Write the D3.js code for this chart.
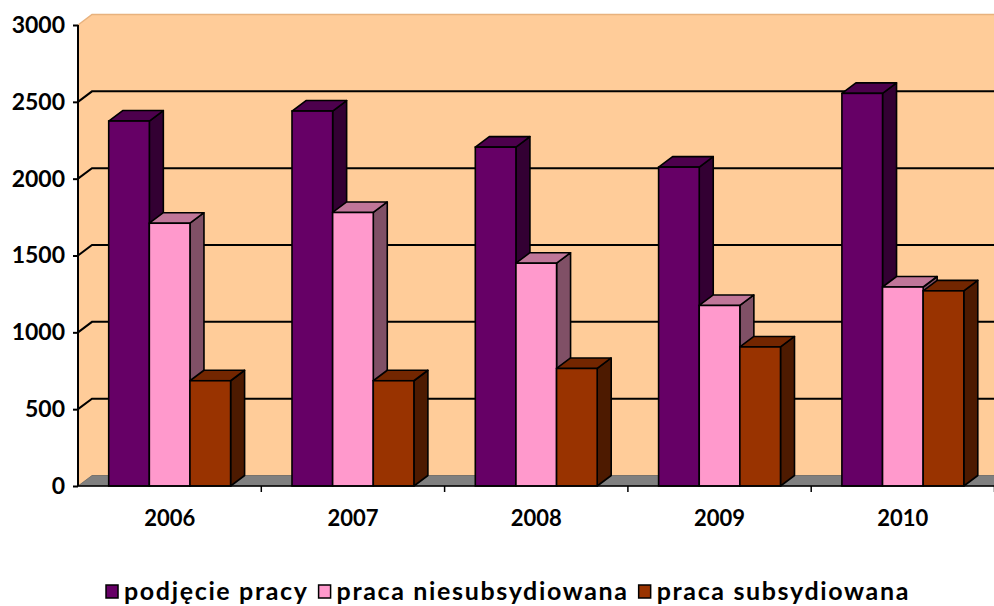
<!DOCTYPE html>
<html><head><meta charset="utf-8">
<script src="https://cdn.jsdelivr.net/npm/d3@7"></script>
<style>body{margin:0;background:#fff}svg{display:block}text{font-family:Lato,"Open Sans",sans-serif;font-weight:bold}</style>
</head><body><svg id="c" width="994" height="606"></svg>
<script>
const categories = ["2006","2007","2008","2009","2010"];
const seriesNames = ["podjęcie pracy","praca niesubsydiowana","praca subsydiowana"];
const podjecie = [2375, 2440, 2205, 2075, 2555];
const niesubs = [1710, 1780, 1450, 1175, 1295];
const subs = [685, 685, 765, 905, 1270];
const yTicks = [0,500,1000,1500,2000,2500,3000];
const seriesValues = [podjecie, niesubs, subs];
const colors = [
  {front:"#660066", side:"#330033", top:"#4d004d"},
  {front:"#ff99cc", side:"#805066", top:"#c07699"},
  {front:"#993300", side:"#4d1a00", top:"#732600"}
];

const svg = d3.select("#c");
const x0 = 78, x1 = 994.5, yBase = 486, yTop = 25;
const dx = 14, dy = 10.5;
const x = d3.scaleBand().domain(categories).range([x0, x1]).paddingInner(0.335).paddingOuter(0.1675);
const xs = d3.scaleBand().domain(seriesNames).range([0, x.bandwidth()]);
const y = d3.scaleLinear().domain([0,3000]).range([yBase, yTop]);

svg.append("path").attr("d",`M${x0},${y(3000)} L${x0+dx},${y(3000)-dy} L1010,${y(3000)-dy} L1010,${yBase-dy} L${x0},${yBase} Z`)
  .attr("fill","#ffcc99");
svg.append("path").attr("d",`M${x0},${y(3000)} L${x0+dx},${y(3000)-dy} L1010,${y(3000)-dy}`)
  .attr("fill","none").attr("stroke","#e8b27e").attr("stroke-width",1.5);
yTicks.filter(t=>t>0 && t<3000).forEach(t=>{
  svg.append("path").attr("d",`M${x0},${y(t)} L${x0+dx},${y(t)-dy} L1010,${y(t)-dy}`)
    .attr("fill","none").attr("stroke","#000").attr("stroke-width",2);
});
svg.append("path").attr("d",`M${x0},${yBase} L${x0+dx},${yBase-dy} L1010,${yBase-dy} L1010,${yBase} Z`)
  .attr("fill","#808080").attr("stroke","#666").attr("stroke-width",0.8);

const g = svg.append("g");
categories.forEach((c,i)=>{
  seriesNames.forEach((s,j)=>{
    const v = seriesValues[j][i];
    const bx = x(c)+xs(s), bw = xs.bandwidth(), by = y(v);
    const col = colors[j];
    const sw = 1.6;
    g.append("path").attr("d",`M${bx+bw},${yBase} L${bx+bw+dx},${yBase-dy} L${bx+bw+dx},${by-dy} L${bx+bw},${by} Z`)
      .attr("fill",col.side).attr("stroke","#000").attr("stroke-width",sw).attr("stroke-linejoin","round");
    g.append("path").attr("d",`M${bx},${by} L${bx+dx},${by-dy} L${bx+bw+dx},${by-dy} L${bx+bw},${by} Z`)
      .attr("fill",col.top).attr("stroke","#000").attr("stroke-width",sw).attr("stroke-linejoin","round");
    g.append("rect").attr("x",bx).attr("y",by).attr("width",bw).attr("height",yBase-by)
      .attr("fill",col.front).attr("stroke","#000").attr("stroke-width",sw);
  });
});

const yAxis = d3.axisLeft(y).tickValues(yTicks).tickSize(5).tickPadding(8).tickFormat(d3.format("d"));
const ya = svg.append("g").attr("transform",`translate(${x0},0)`).call(yAxis);
ya.select(".domain").attr("stroke","#000").attr("stroke-width",2).attr("d",`M0,${y(3000)}V${yBase}`);
ya.selectAll(".tick line").attr("stroke","#000").attr("stroke-width",2);
ya.selectAll("text").attr("font-size",23).attr("fill","#000").attr("font-family","Lato,'Open Sans',sans-serif").attr("font-weight","bold");

const xAxis = d3.axisBottom(x).tickSize(0).tickPadding(24);
const xa = svg.append("g").attr("transform",`translate(0,${yBase})`).call(xAxis);
xa.select(".domain").attr("stroke","#000").attr("stroke-width",1.5).attr("d",`M${x0},0H${x1}`);
xa.selectAll("text").attr("font-size",22).attr("fill","#000").attr("font-family","Lato,'Open Sans',sans-serif").attr("font-weight","bold");
const step = x.step();
d3.range(1,6).forEach(k=>{
  xa.append("line").attr("x1",x0+k*step).attr("x2",x0+k*step).attr("y1",0).attr("y2",6).attr("stroke","#000").attr("stroke-width",1.5);
});

// legend
const lg = svg.append("g");
const items = [];
const legendFs = 25;
seriesNames.forEach((s,j)=>{
  const it = lg.append("g");
  it.append("rect").attr("x",0).attr("y",-15).attr("width",12).attr("height",13)
    .attr("fill",colors[j].front).attr("stroke","#000").attr("stroke-width",1.5);
  const t = it.append("text").attr("x",18).attr("y",0).attr("font-size",legendFs)
    .attr("font-family","'Open Sans',Lato,sans-serif").attr("fill","#000").text(s);
  items.push({it,t,s});
});
const gap = 10;
const wRaw = d3.sum(items,d=>d.t.node().getComputedTextLength());
const nChars = d3.sum(items,d=>d.s.length);
const ls = Math.max(0, (804 - 3*18 - 2*gap - wRaw) / nChars);
items.forEach(d=>{ d.t.attr("letter-spacing",ls); d.w = 18 + d.t.node().getComputedTextLength(); });
const total = d3.sum(items,d=>d.w) + gap*(items.length-1);
let start = 508 - total/2;
items.forEach(d=>{ d.it.attr("transform",`translate(${start},600)`); start += d.w + gap; });
</script></body></html>
